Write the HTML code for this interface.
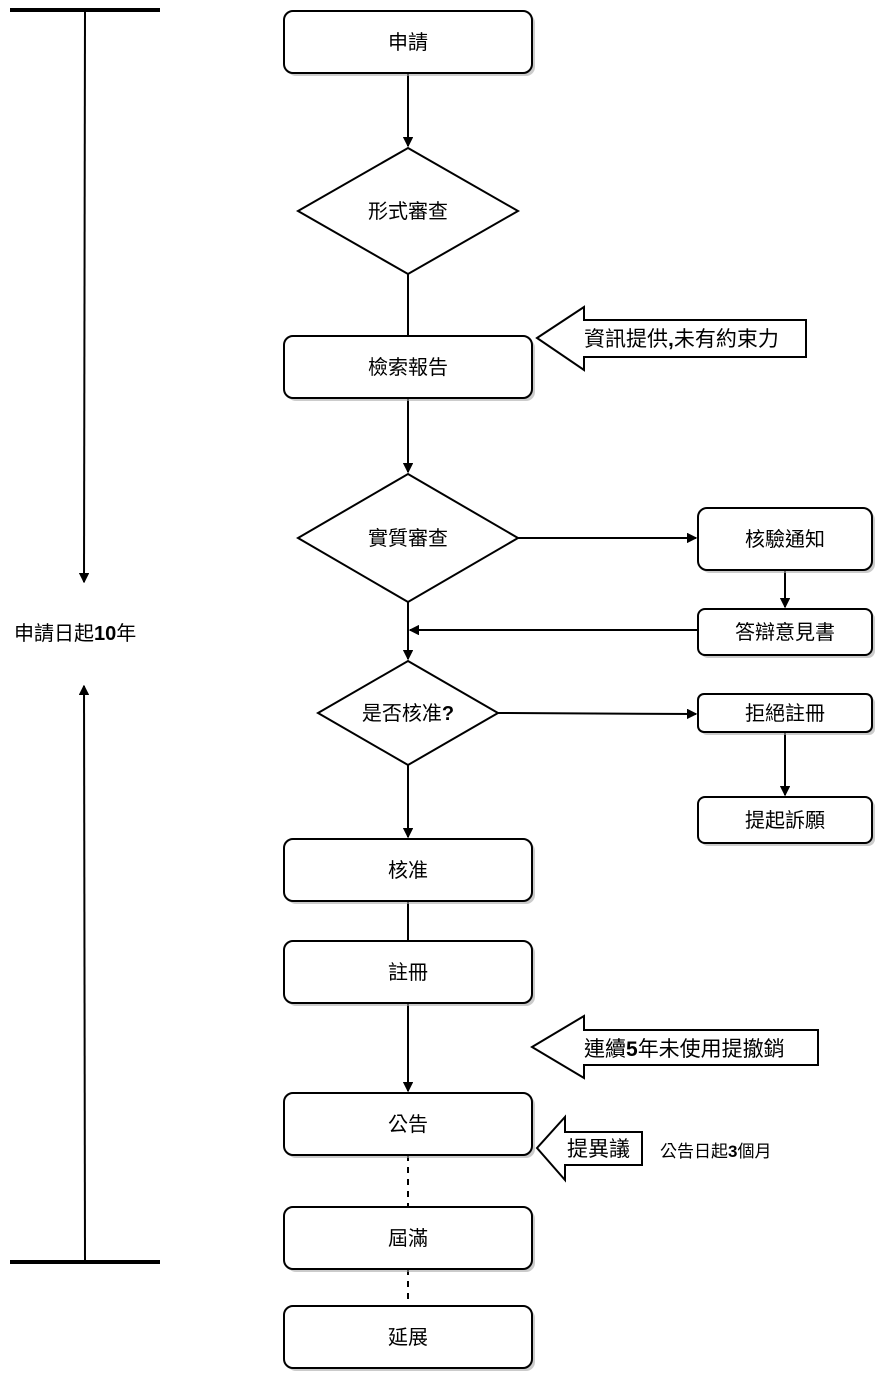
<!DOCTYPE html>
<html><head><meta charset="utf-8"><style>
html,body{margin:0;padding:0;background:#fff}
svg text{font-family:"Liberation Sans","Noto Sans CJK TC",sans-serif;fill:#000}
</style></head><body>
<svg width="875" height="1372" viewBox="0 0 875 1372" xmlns="http://www.w3.org/2000/svg">
<defs>
<marker id="a" markerWidth="10" markerHeight="10" refX="9" refY="5" orient="auto" markerUnits="userSpaceOnUse"><path d="M0,0 L10,5 L0,10 Z" fill="#000" transform="scale(1.3) translate(-2,-1.2)"/></marker>
</defs>
<g fill="none" stroke="#000" stroke-width="2">
<!-- connectors -->
<line x1="408" y1="73" x2="408" y2="146" marker-end="url(#a)"/>
<line x1="408" y1="274" x2="408" y2="336"/>
<line x1="408" y1="398" x2="408" y2="472" marker-end="url(#a)"/>
<line x1="518" y1="538" x2="696" y2="538" marker-end="url(#a)"/>
<line x1="785" y1="570" x2="785" y2="607" marker-end="url(#a)"/>
<line x1="698" y1="630" x2="410" y2="630" marker-end="url(#a)"/>
<line x1="408" y1="602" x2="408" y2="659" marker-end="url(#a)"/>
<line x1="498" y1="713" x2="696" y2="714" marker-end="url(#a)"/>
<line x1="785" y1="732" x2="785" y2="795" marker-end="url(#a)"/>
<line x1="408" y1="765" x2="408" y2="837" marker-end="url(#a)"/>
<line x1="408" y1="901" x2="408" y2="941"/>
<line x1="408" y1="1003" x2="408" y2="1091" marker-end="url(#a)"/>
<line x1="408" y1="1155" x2="408" y2="1207" stroke-dasharray="6,6"/>
<line x1="408" y1="1269" x2="408" y2="1306" stroke-dasharray="6,6"/>
<!-- left timeline -->
<line x1="10" y1="10" x2="160" y2="10" stroke-width="4"/>
<line x1="10" y1="1262" x2="160" y2="1262" stroke-width="4"/>
<line x1="85" y1="10" x2="84" y2="582" marker-end="url(#a)"/>
<line x1="85" y1="1262" x2="84" y2="686" marker-end="url(#a)"/>
</g>
<!-- shadows -->
<g fill="#aaa" opacity="0.6">
<rect x="287" y="14" width="248" height="62" rx="9"/>
<rect x="287" y="339" width="248" height="62" rx="9"/>
<rect x="287" y="842" width="248" height="62" rx="9"/>
<rect x="287" y="944" width="248" height="62" rx="9"/>
<rect x="287" y="1096" width="248" height="62" rx="9"/>
<rect x="287" y="1210" width="248" height="62" rx="9"/>
<rect x="287" y="1309" width="248" height="62" rx="9"/>
<rect x="701" y="511" width="174" height="62" rx="9"/>
<rect x="701" y="612" width="174" height="46" rx="7"/>
<rect x="701" y="697" width="174" height="38" rx="6"/>
<rect x="701" y="800" width="174" height="46" rx="7"/>
</g>
<g fill="#fff" stroke="#000" stroke-width="2">
<rect x="284" y="11" width="248" height="62" rx="9"/>
<rect x="284" y="336" width="248" height="62" rx="9"/>
<rect x="284" y="839" width="248" height="62" rx="9"/>
<rect x="284" y="941" width="248" height="62" rx="9"/>
<rect x="284" y="1093" width="248" height="62" rx="9"/>
<rect x="284" y="1207" width="248" height="62" rx="9"/>
<rect x="284" y="1306" width="248" height="62" rx="9"/>
<rect x="698" y="508" width="174" height="62" rx="9"/>
<rect x="698" y="609" width="174" height="46" rx="7"/>
<rect x="698" y="694" width="174" height="38" rx="6"/>
<rect x="698" y="797" width="174" height="46" rx="7"/>
<polygon points="408,148 518,211 408,274 298,211"/>
<polygon points="408,474 518,538 408,602 298,538"/>
<polygon points="408,661 498,713 408,765 318,713"/>
<polygon points="537,338 584,307 584,320 806,320 806,357 584,357 584,370"/>
<polygon points="532,1047 584,1016 584,1030 818,1030 818,1065 584,1065 584,1078"/>
<polygon points="537,1148 565,1117 565,1132 642,1132 642,1165 565,1165 565,1180"/>
</g>
<g font-size="20" text-anchor="middle">
<text x="408" y="49">申請</text>
<text x="408" y="218">形式審查</text>
<text x="408" y="374">檢索報告</text>
<text x="408" y="545">實質審查</text>
<text x="408" y="720">是否核准<tspan font-weight="bold">?</tspan></text>
<text x="408" y="877">核准</text>
<text x="408" y="979">註冊</text>
<text x="408" y="1131">公告</text>
<text x="408" y="1245">屆滿</text>
<text x="408" y="1344">延展</text>
<text x="785" y="546">核驗通知</text>
<text x="785" y="639">答辯意見書</text>
<text x="785" y="720">拒絕註冊</text>
<text x="785" y="827">提起訴願</text>
</g>
<g font-size="21">
<text x="584" y="346">資訊提供<tspan font-weight="bold">,</tspan>未有約束力</text>
<text x="584" y="1056">連續<tspan font-weight="bold">5</tspan>年未使用提撤銷</text>
<text x="567" y="1156">提異議</text>
</g>
<text x="660" y="1157" font-size="17">公告日起<tspan font-weight="bold">3</tspan>個月</text>
<text x="14" y="640" font-size="20">申請日起<tspan font-weight="bold">10</tspan>年</text>
</svg>
</body></html>
